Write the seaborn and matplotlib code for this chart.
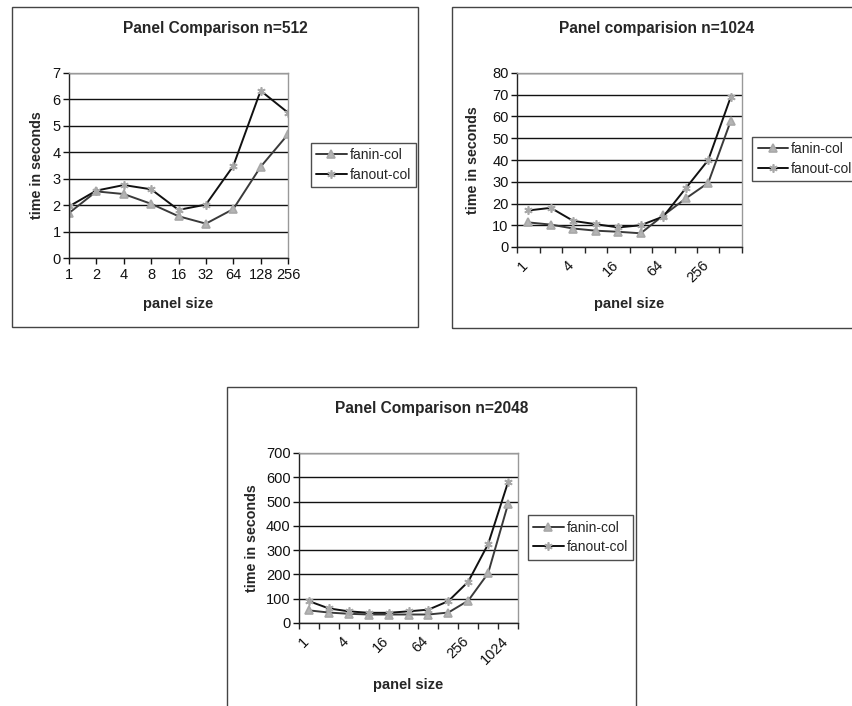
import numpy as np
import pandas as pd
import matplotlib
matplotlib.use("Agg")
import matplotlib.pyplot as plt
import matplotlib.transforms as mtransforms
import seaborn as sns
from matplotlib.patches import Rectangle

sns.set_style("white")
plt.rcParams['font.family'] = ['Liberation Sans', 'DejaVu Sans']

# ---------------- data ----------------
sizes_512 = [1, 2, 4, 8, 16, 32, 64, 128, 256]
fanin_512 = [1.7, 2.52, 2.42, 2.05, 1.58, 1.3, 1.85, 3.45, 4.68]
fanout_512 = [1.95, 2.55, 2.76, 2.6, 1.82, 2.02, 3.48, 6.33, 5.5]

sizes_1024 = [1, 2, 4, 8, 16, 32, 64, 128, 256, 512]
fanin_1024 = [11.3, 10.3, 8.5, 7.5, 7.0, 6.3, 14.5, 22.3, 29.5, 58.0]
fanout_1024 = [16.8, 18.0, 12.0, 10.5, 9.0, 10.0, 14.0, 27.0, 40.0, 69.0]

sizes_2048 = [1, 2, 4, 8, 16, 32, 64, 128, 256, 512, 1024]
fanin_2048 = [52, 43, 38, 35, 35, 35, 35, 43, 92, 205, 490]
fanout_2048 = [90, 60, 48, 42, 42, 48, 55, 90, 170, 325, 580]

series_names = ["fanin-col", "fanout-col"]
titles = ["Panel Comparison n=512", "Panel comparision n=1024", "Panel Comparison n=2048"]

W, H = 853, 706
fig = plt.figure(figsize=(W / 100, H / 100), dpi=100)


def fx(px):
    return px / W


def fy(py):
    return 1 - py / H


# outer chart boxes (pixel coords: x0, y0, x1, y1)
boxes = [(12, 7, 418, 327), (452, 7, 860, 328), (227, 387, 636, 712)]
for x0, y0, x1, y1 in boxes:
    fig.add_artist(Rectangle((fx(x0), fy(y1)), fx(x1 - x0), (y1 - y0) / H,
                             transform=fig.transFigure, fill=False,
                             edgecolor="#444444", linewidth=1.0, clip_on=False))

# axes rectangles in pixels (left, top, right, bottom)
axes_px = [(69, 73, 288, 258), (517, 73, 742, 247), (299, 453, 518, 623)]
legend_centers = [(363.5, 165), (805, 159), (580.5, 537.5)]
title_pos = [(215, 28), (657, 28), (432, 408)]
ylabel_x = [-0.146, -0.196, -0.215]
xlabel_y = [-0.249, -0.328, -0.365]

datasets = [
    (sizes_512, fanin_512, fanout_512, 7, 1, False),
    (sizes_1024, fanin_1024, fanout_1024, 80, 10, True),
    (sizes_2048, fanin_2048, fanout_2048, 700, 100, True),
]

styles = [("^", "#3a3a3a"), ((6, 2, 0), "#111111")]

for i, (sizes, fin, fout, ymax, ystep, between) in enumerate(datasets):
    l, t, r, b = axes_px[i]
    ax = fig.add_axes([fx(l), fy(b), (r - l) / W, (b - t) / H])
    n = len(sizes)
    handles = []
    for (mk, col), vals, name in zip(styles, [fin, fout], series_names):
        df = pd.DataFrame({"pos": list(range(n)), "time": vals})
        sns.lineplot(data=df, x="pos", y="time", color=col, marker=mk,
                     linewidth=1.4, markersize=6, ax=ax,
                     markerfacecolor="#b4b4b4", markeredgecolor="#a8a8a8",
                     markeredgewidth=1.2)
        handles.append(ax.lines[-1])

    ax.set_ylim(0, ymax)
    ax.set_yticks(np.arange(0, ymax + ystep / 2, ystep))
    ax.yaxis.grid(True, color="#111111", linewidth=1.0)
    ax.xaxis.grid(False)
    ax.set_axisbelow(True)
    for s in ["top", "right"]:
        ax.spines[s].set_color("#999999")
        ax.spines[s].set_linewidth(1.0)
    for s in ["left", "bottom"]:
        ax.spines[s].set_color("#222222")
        ax.spines[s].set_linewidth(1.0)
    ax.tick_params(axis="y", direction="out", length=4, width=1, left=True,
                   labelsize=10.5, pad=2, colors="#111111")

    if not between:
        ax.set_xlim(0, n - 1)
        ax.set_xticks(range(n))
        ax.set_xticklabels([str(s) for s in sizes])
        ax.tick_params(axis="x", direction="out", length=4, width=1, bottom=True,
                       labelsize=10.5, pad=3, colors="#111111")
    else:
        ax.set_xlim(-0.5, n - 0.5)
        ax.set_xticks(np.arange(-0.5, n, 1.0), minor=True)
        ax.set_xticks(range(0, n, 2))
        ax.set_xticklabels([str(sizes[k]) for k in range(0, n, 2)],
                           rotation=45, ha="right", rotation_mode="anchor")
        ax.tick_params(axis="x", which="minor", direction="out", length=4,
                       width=1, bottom=True)
        ax.tick_params(axis="x", which="major", length=0, labelsize=10.5, pad=8,
                       colors="#111111")
        offset = mtransforms.ScaledTranslation(-7 / 100, 0, fig.dpi_scale_trans)
        for lab in ax.get_xticklabels():
            lab.set_transform(lab.get_transform() + offset)

    ax.set_xlabel("panel size", fontsize=10.5, fontweight="bold")
    ax.xaxis.label.set_va("center")
    ax.xaxis.set_label_coords(0.5, xlabel_y[i])
    ax.set_ylabel("time in seconds", fontsize=10.3, fontweight="bold")
    ax.yaxis.label.set_va("center")
    ax.yaxis.set_label_coords(ylabel_x[i], 0.5)

    tx, ty = title_pos[i]
    fig.text(fx(tx), fy(ty), titles[i], ha="center", va="center",
             fontsize=11.2, fontweight="bold")

    cx, cy = legend_centers[i]
    leg = ax.legend(handles=handles, labels=series_names, loc="center",
                    bbox_to_anchor=(fx(cx), fy(cy)), bbox_transform=fig.transFigure,
                    fancybox=False, frameon=True, fontsize=10, handlelength=2.2,
                    handletextpad=0.2, borderpad=0.4, labelspacing=0.4,
                    borderaxespad=0)
    leg.get_frame().set_edgecolor("#222222")
    leg.get_frame().set_linewidth(1.0)

fig.savefig("out.png", dpi=100)
